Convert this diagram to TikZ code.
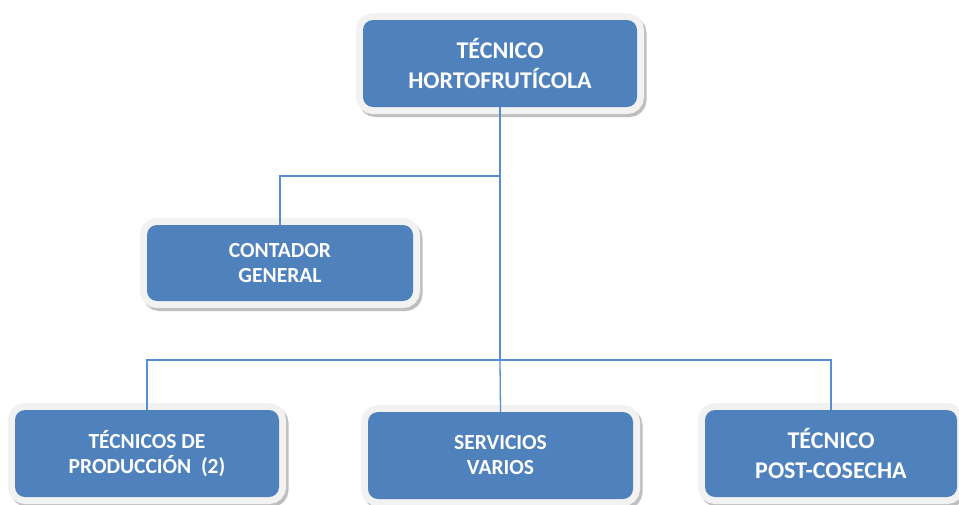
\documentclass[tikz,border=0pt]{standalone}
\usepackage{fontspec}
\setmainfont{Carlito}
\usepackage{tikz}
\usetikzlibrary{positioning}
\definecolor{boxblue}{HTML}{4F81BD}
\definecolor{framegray}{HTML}{F2F2F2}
\definecolor{shadegray}{HTML}{BFBFBF}
\definecolor{linkblue}{HTML}{558ED5}

\begin{document}
\begin{tikzpicture}[x=1pt,y=-1pt]
        \useasboundingbox (0,0) rectangle (959,504);
        \coordinate (fork) at (500,176);
        \coordinate (bus) at (500,360);
        \begin{scope}[every node/.style={fill=boxblue,rounded corners=10pt,text=white,align=center,inner sep=0pt,
            font=\bfseries\fontsize{21.5}{25}\selectfont,
            preaction={draw=shadegray,line width=14pt,transform canvas={xshift=2.5pt,yshift=-3pt}},
            preaction={draw=framegray,line width=14pt}},
            bigtxt/.style={font=\bfseries\fontsize{24}{30}\selectfont}]
          \node[minimum width=274pt,minimum height=87pt,bigtxt] (top) at (500,63.5) {TÉCNICO\\HORTOFRUTÍCOLA};
          \node[minimum width=266pt,minimum height=76pt] (cont) at (280,263) {CONTADOR\\GENERAL};
          \node[minimum width=264pt,minimum height=87pt] (prod) at (147,453.5) {TÉCNICOS DE\\PRODUCCIÓN\ \ (2)};
          \node[minimum width=265pt,minimum height=87pt] (serv) at (500.5,455.5) {SERVICIOS\\VARIOS};
          \node[minimum width=252pt,minimum height=87pt,bigtxt] (post) at (831,453.5) {TÉCNICO\\POST-COSECHA};
        \end{scope}
        \begin{scope}[link/.style={draw=linkblue,line width=1.3pt}]
          \draw[link] (top) -- (bus);
          \draw[link] (fork) -| (cont.north);
          \draw[link] (bus) -| (prod.north);
          \draw[link] (bus) -- (serv.north);
          \draw[link] (bus) -| (post.north);
        \end{scope}
      \end{tikzpicture}
\end{document}
